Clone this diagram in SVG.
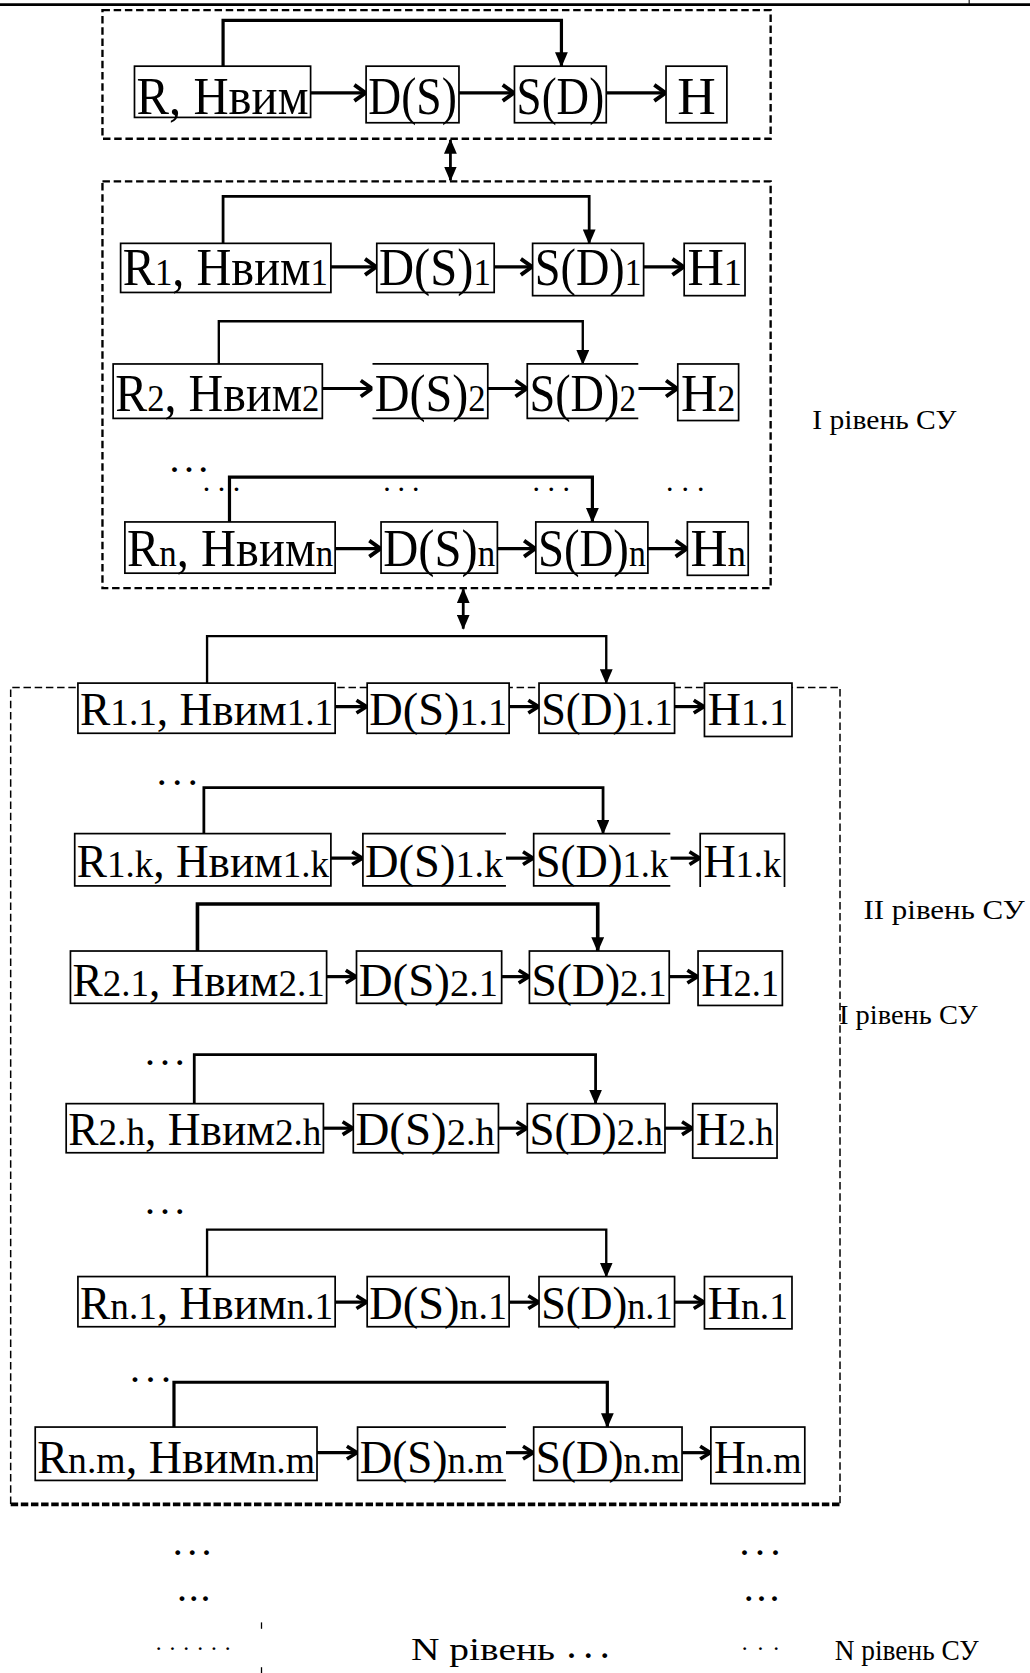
<svg xmlns="http://www.w3.org/2000/svg" width="1030" height="1673" viewBox="0 0 1030 1673">
<style>
.bg{fill:#fff}
.n{fill:#fff;stroke:#000;stroke-width:1.6}
.ne{fill:none;stroke:#000;stroke-width:1.6}
.t{font-family:"Liberation Serif","Times New Roman",serif;font-size:50px;fill:#000}
.t2{font-family:"Liberation Serif","Times New Roman",serif;font-size:44px;fill:#000}
.i{font-size:36px}
.lbl{font-family:"Liberation Serif","Times New Roman",serif;font-size:26px;fill:#000}
.dots{font-family:"Liberation Serif","Times New Roman",serif;font-size:28px;font-weight:bold;fill:#000}
.box{fill:none;stroke:#000;stroke-width:2.2;stroke-dasharray:7,3.5}
.box3{fill:none;stroke:#000;stroke-width:1.4;stroke-dasharray:7,3.5}
.h{fill:none;stroke:#000;stroke-width:3;marker-end:url(#ch)}
.h2{fill:none;stroke:#000;stroke-width:3;marker-end:url(#ch2)}
.b{fill:none;stroke:#000;stroke-width:2.6;marker-end:url(#tri)}
.d{fill:none;stroke:#000;stroke-width:2.6;marker-start:url(#tri);marker-end:url(#tri)}
</style>
<defs>
<marker id="ch" viewBox="0 0 16 20" markerWidth="16" markerHeight="20" refX="14" refY="10" orient="auto" markerUnits="userSpaceOnUse">
<path d="M3,2.5 L13.5,10 L3,17.5" fill="none" stroke="#000" stroke-width="3.6"/>
</marker>
<marker id="ch2" viewBox="0 0 14 16" markerWidth="14" markerHeight="16" refX="12.5" refY="8" orient="auto" markerUnits="userSpaceOnUse">
<path d="M2.5,2 L12,8 L2.5,14" fill="none" stroke="#000" stroke-width="3.4"/>
</marker>
<marker id="tri" viewBox="0 0 14 12" markerWidth="14" markerHeight="12" refX="13" refY="6" orient="auto-start-reverse" markerUnits="userSpaceOnUse">
<path d="M0,0 L14,6 L0,12 z" fill="#000"/>
</marker>
</defs>
<rect class="bg" x="0" y="0" width="1030" height="1673"/>
<g transform="scale(1.067358)">
<g id="frames">
<line x1="0" y1="4.4" x2="965" y2="4.4" stroke="#000" stroke-width="2.6"/>
<line x1="908" y1="0" x2="908" y2="5" stroke="#000" stroke-width="1"/>
<rect id="level1-top" class="box" x="96" y="9.5" width="626" height="120.5"/>
<rect id="level1-box" class="box" x="96" y="170" width="626" height="381"/>
<path id="level2-box" class="box3" d="M10,1409 V644 H787 V1409"/>
<line x1="10" y1="1409.5" x2="787" y2="1409.5" stroke="#000" stroke-width="3.6" stroke-dasharray="7,2.5"/>
<line x1="245" y1="1520" x2="245" y2="1526" stroke="#000" stroke-width="1.2"/>
<line x1="245" y1="1562" x2="245" y2="1568" stroke="#000" stroke-width="1.2"/>
</g>

<g id="connectors">
<line class="d" x1="422" y1="131" x2="422" y2="169"/>
<line class="d" x1="434" y1="552" x2="434" y2="589"/>
<path class="b" d="M209,62 V19 H526 V62" style="stroke-width:3"/>
<path class="h" d="M291,87 H343"/><path class="h" d="M430,87 H482"/><path class="h" d="M568,87 H624"/>
<path class="b" d="M209,228 V184 H552 V228"/>
<path class="h" d="M310,250 H353"/><path class="h" d="M463,250 H499"/><path class="h" d="M603,250 H641"/>
<path class="b" d="M205,341 V301 H546 V341" style="stroke-width:2.2"/>
<path class="h" d="M302,364 H349"/><path class="h" d="M457,364 H494"/><path class="h" d="M598,364 H635"/>
<path class="b" d="M215,489 V447 H555 V489" style="stroke-width:3"/>
<path class="h" d="M314,514 H357"/><path class="h" d="M466,514 H502"/><path class="h" d="M607,514 H644"/>
<path class="b" d="M194,640 V596 H568 V640" style="stroke-width:2.2"/>
<path class="h2" d="M314,662 H344"/><path class="h2" d="M477,662 H505"/><path class="h2" d="M632,662 H660"/>
<path class="b" d="M191,781 V738 H565 V781"/>
<path class="h2" d="M310,804 H340"/><path class="h2" d="M474,804 H500"/><path class="h2" d="M628,804 H656"/>
<path class="b" d="M185,891 V847 H560 V891" style="stroke-width:3.4"/>
<path class="h2" d="M306,915 H334"/><path class="h2" d="M470,915 H496"/><path class="h2" d="M627,915 H654"/>
<path class="b" d="M182,1034 V988 H558 V1034"/>
<path class="h2" d="M303,1057 H331"/><path class="h2" d="M467,1057 H494"/><path class="h2" d="M623,1057 H649"/>
<path class="b" d="M194,1196 V1152 H568 V1196" style="stroke-width:2.2"/>
<path class="h2" d="M314,1220 H344"/><path class="h2" d="M477,1220 H505"/><path class="h2" d="M632,1220 H660"/>
<path class="b" d="M163,1337 V1295 H569 V1337" style="stroke-width:3"/>
<path class="h2" d="M297,1361 H335"/><path class="h2" d="M474,1361 H500"/><path class="h2" d="M639,1361 H666"/>
</g>

<g id="r0"><rect class="n" x="126" y="62" width="165" height="48"/><text class="t" x="128" y="107" textLength="161" lengthAdjust="spacingAndGlyphs">R, Нвим</text></g>
<g id="d0"><rect class="n" x="343" y="62" width="87" height="53"/><text class="t" x="345" y="107" textLength="83" lengthAdjust="spacingAndGlyphs">D(S)</text></g>
<g id="s0"><rect class="n" x="482" y="62" width="86" height="53"/><text class="t" x="484" y="107" textLength="82" lengthAdjust="spacingAndGlyphs">S(D)</text></g>
<g id="h0"><rect class="n" x="624" y="62" width="57" height="53"/><text class="t" x="652.5" y="107" text-anchor="middle">Н</text></g>

<g id="r1"><rect class="n" x="113" y="228" width="197" height="46"/><text class="t" transform="translate(115,267) scale(0.905,1)">R<tspan class="i">1</tspan>, Нвим<tspan class="i">1</tspan></text></g>
<g id="d1"><rect class="n" x="353" y="228" width="110" height="46"/><text class="t" transform="translate(355,267) scale(0.911,1)">D(S)<tspan class="i">1</tspan></text></g>
<g id="s1"><rect class="n" x="499" y="228" width="104" height="49"/><text class="t" transform="translate(501,267) scale(0.868,1)">S(D)<tspan class="i">1</tspan></text></g>
<g id="h1"><rect class="n" x="641" y="228" width="57" height="49"/><text class="t" transform="translate(644,267) scale(0.943,1)">Н<tspan class="i">1</tspan></text></g>

<g id="r2"><rect class="n" x="106" y="341" width="196" height="51"/><text class="t" transform="translate(108,385) scale(0.9,1)">R<tspan class="i">2</tspan>, Нвим<tspan class="i">2</tspan></text></g>
<g id="d2"><rect class="bg" x="349" y="341" width="108" height="51"/><path class="ne" d="M349,341 H457 V392 H349"/><text class="t" transform="translate(351,385) scale(0.903,1)">D(S)<tspan class="i">2</tspan></text></g>
<g id="s2"><rect class="bg" x="494" y="341" width="104" height="51"/><path class="ne" d="M598,341 H494 V392 H598"/><text class="t" transform="translate(496,385) scale(0.868,1)">S(D)<tspan class="i">2</tspan></text></g>
<g id="h2"><rect class="n" x="635" y="341" width="57" height="53"/><text class="t" transform="translate(638,385) scale(0.943,1)">Н<tspan class="i">2</tspan></text></g>

<g id="rn"><rect class="n" x="117" y="489" width="197" height="48"/><text class="t" transform="translate(119,530) scale(0.909,1)">R<tspan class="i">n</tspan>, Нвим<tspan class="i">n</tspan></text></g>
<g id="dn"><rect class="n" x="357" y="489" width="109" height="48"/><text class="t" transform="translate(359,530) scale(0.911,1)">D(S)<tspan class="i">n</tspan></text></g>
<g id="sn"><rect class="n" x="502" y="489" width="105" height="48"/><text class="t" transform="translate(504,530) scale(0.877,1)">S(D)<tspan class="i">n</tspan></text></g>
<g id="hn"><rect class="n" x="644" y="489" width="57" height="50"/><text class="t" transform="translate(647,530) scale(0.961,1)">Н<tspan class="i">n</tspan></text></g>

<g id="r11"><rect class="n" x="73" y="640" width="241" height="47"/><text class="t2" transform="translate(75,679) scale(0.967,1)">R<tspan class="i">1.1</tspan>, Нвим<tspan class="i">1.1</tspan></text></g>
<g id="d11"><rect class="n" x="344" y="640" width="133" height="47"/><text class="t2" transform="translate(346,679) scale(0.988,1)">D(S)<tspan class="i">1.1</tspan></text></g>
<g id="s11"><rect class="n" x="505" y="640" width="127" height="47"/><text class="t2" transform="translate(507,679) scale(0.943,1)">S(D)<tspan class="i">1.1</tspan></text></g>
<g id="h11"><rect class="n" x="660" y="640" width="82" height="50"/><text class="t2" transform="translate(663,679) scale(0.98,1)">Н<tspan class="i">1.1</tspan></text></g>

<g id="r1k"><rect class="n" x="70" y="781" width="240" height="49"/><text class="t2" transform="translate(72,822) scale(0.963,1)">R<tspan class="i">1.k</tspan>, Нвим<tspan class="i">1.k</tspan></text></g>
<g id="d1k"><rect class="bg" x="340" y="781" width="134" height="49"/><path class="ne" d="M474,781 H340 V830 H474"/><text class="t2" transform="translate(342,822) scale(0.99,1)">D(S)<tspan class="i">1.k</tspan></text></g>
<g id="s1k"><rect class="bg" x="500" y="781" width="128" height="49"/><path class="ne" d="M628,781 H500 V830 H628"/><text class="t2" transform="translate(502,822) scale(0.95,1)">S(D)<tspan class="i">1.k</tspan></text></g>
<g id="h1k"><rect class="bg" x="656" y="781" width="79" height="49"/><path class="ne" d="M656,831 V781 H735 V831"/><text class="t2" transform="translate(659,822) scale(0.95,1)">Н<tspan class="i">1.k</tspan></text></g>

<g id="r21"><rect class="n" x="66" y="891" width="240" height="49"/><text class="t2" transform="translate(68,933) scale(0.963,1)">R<tspan class="i">2.1</tspan>, Нвим<tspan class="i">2.1</tspan></text></g>
<g id="d21"><rect class="n" x="334" y="891" width="136" height="49"/><text class="t2" transform="translate(336,933) scale(1,1)">D(S)<tspan class="i">2.1</tspan></text></g>
<g id="s21"><rect class="n" x="496" y="891" width="131" height="49"/><text class="t2" transform="translate(498,933) scale(0.97,1)">S(D)<tspan class="i">2.1</tspan></text></g>
<g id="h21"><rect class="n" x="654" y="891" width="79" height="51"/><text class="t2" transform="translate(657,933) scale(0.95,1)">Н<tspan class="i">2.1</tspan></text></g>

<g id="r2h"><rect class="n" x="62" y="1034" width="241" height="46"/><text class="t2" transform="translate(64,1073) scale(0.967,1)">R<tspan class="i">2.h</tspan>, Нвим<tspan class="i">2.h</tspan></text></g>
<g id="d2h"><rect class="n" x="331" y="1034" width="136" height="46"/><text class="t2" transform="translate(333,1073) scale(1,1)">D(S)<tspan class="i">2.h</tspan></text></g>
<g id="s2h"><rect class="n" x="494" y="1034" width="129" height="46"/><text class="t2" transform="translate(496,1073) scale(0.958,1)">S(D)<tspan class="i">2.h</tspan></text></g>
<g id="h2h"><rect class="n" x="649" y="1034" width="79" height="51"/><text class="t2" transform="translate(652,1073) scale(0.95,1)">Н<tspan class="i">2.h</tspan></text></g>

<g id="rn1"><rect class="n" x="73" y="1196" width="241" height="47"/><text class="t2" transform="translate(75,1236) scale(0.967,1)">R<tspan class="i">n.1</tspan>, Нвим<tspan class="i">n.1</tspan></text></g>
<g id="dn1"><rect class="n" x="344" y="1196" width="133" height="47"/><text class="t2" transform="translate(346,1236) scale(0.988,1)">D(S)<tspan class="i">n.1</tspan></text></g>
<g id="sn1"><rect class="n" x="505" y="1196" width="127" height="47"/><text class="t2" transform="translate(507,1236) scale(0.943,1)">S(D)<tspan class="i">n.1</tspan></text></g>
<g id="hn1"><rect class="n" x="660" y="1196" width="82" height="49"/><text class="t2" transform="translate(663,1236) scale(0.98,1)">Н<tspan class="i">n.1</tspan></text></g>

<g id="rnm"><rect class="n" x="33" y="1337" width="264" height="50"/><text class="t2" transform="translate(35,1380) scale(0.981,1)">R<tspan class="i">n.m</tspan>, Нвим<tspan class="i">n.m</tspan></text></g>
<g id="dnm"><rect class="bg" x="335" y="1337" width="139" height="50"/><path class="ne" d="M474,1337 H335 V1387 H474"/><text class="t2" transform="translate(337,1380) scale(0.961,1)">D(S)<tspan class="i">n.m</tspan></text></g>
<g id="snm"><rect class="n" x="500" y="1337" width="139" height="50"/><text class="t2" transform="translate(502,1380) scale(0.961,1)">S(D)<tspan class="i">n.m</tspan></text></g>
<g id="hnm"><rect class="n" x="666" y="1337" width="88" height="53"/><text class="t2" transform="translate(669,1380) scale(0.945,1)">Н<tspan class="i">n.m</tspan></text></g>

<g id="labels">
<text class="lbl" x="761" y="402" textLength="135" lengthAdjust="spacingAndGlyphs">І рівень СУ</text>
<text class="lbl" x="809" y="861" textLength="151" lengthAdjust="spacingAndGlyphs">ІІ рівень СУ</text>
<text class="lbl" x="786" y="959" textLength="130" lengthAdjust="spacingAndGlyphs">І рівень СУ</text>
<text class="lbl" x="385" y="1555" textLength="135" lengthAdjust="spacingAndGlyphs" style="font-size:30px">N рівень</text>
<text class="lbl" x="782" y="1555" textLength="135" lengthAdjust="spacingAndGlyphs" style="font-size:28px">N рівень СУ</text>
</g>

<g id="ellipses">
<text class="dots" x="160" y="442" textLength="34" lengthAdjust="spacing">...</text>
<text class="dots" x="190" y="460" textLength="35" lengthAdjust="spacing" style="font-weight:normal">...</text>
<text class="dots" x="359" y="460" textLength="34" lengthAdjust="spacing" style="font-weight:normal">...</text>
<text class="dots" x="499" y="460" textLength="35" lengthAdjust="spacing" style="font-weight:normal">...</text>
<text class="dots" x="624" y="460" textLength="36" lengthAdjust="spacing" style="font-weight:normal">...</text>
<text class="dots" x="148" y="735" textLength="36" lengthAdjust="spacing">...</text>
<text class="dots" x="137" y="998" textLength="35" lengthAdjust="spacing">...</text>
<text class="dots" x="137" y="1137" textLength="35" lengthAdjust="spacing">...</text>
<text class="dots" x="123" y="1295" textLength="36" lengthAdjust="spacing">...</text>
<text class="dots" x="163" y="1457" textLength="34" lengthAdjust="spacing">...</text>
<text class="dots" x="694" y="1457" textLength="36" lengthAdjust="spacing">...</text>
<text class="dots" x="167" y="1500" textLength="29" lengthAdjust="spacing">...</text>
<text class="dots" x="698" y="1500" textLength="31" lengthAdjust="spacing">...</text>
<text class="dots" x="146" y="1546" textLength="70" lengthAdjust="spacing" style="font-size:22px;font-weight:normal">......</text>
<text class="dots" x="532" y="1553" textLength="38" lengthAdjust="spacing">...</text>
<text class="dots" x="695" y="1546" textLength="35" lengthAdjust="spacing" style="font-size:22px;font-weight:normal">...</text>
</g>
</g>
</svg>
